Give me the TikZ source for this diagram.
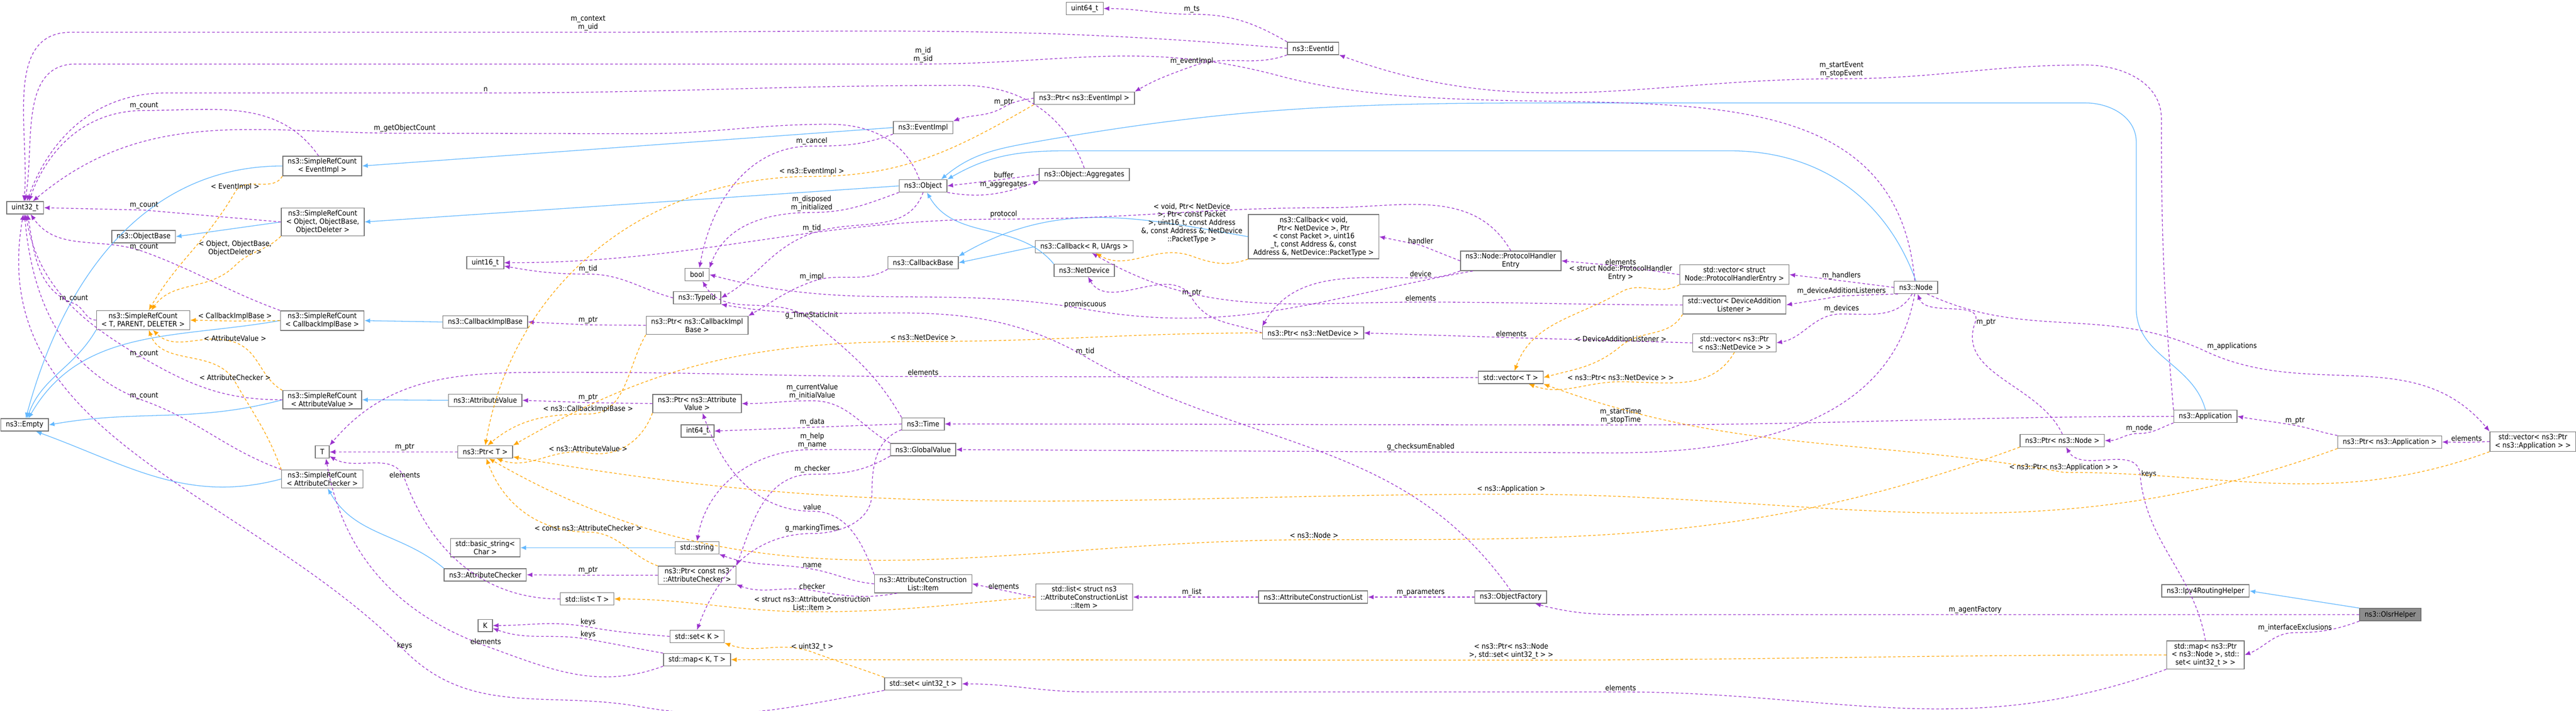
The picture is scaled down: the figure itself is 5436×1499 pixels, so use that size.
\documentclass[tikz,border=0pt]{standalone}
\usepackage{fontspec}
\setmainfont{DejaVu Sans Condensed}
\usepackage{tikz}
\usetikzlibrary{positioning,arrows.meta}

\definecolor{usecol}{HTML}{9A32CD}
\definecolor{tplcol}{HTML}{FFA500}
\definecolor{inhcol}{HTML}{63B8FF}

\begin{document}
\begin{tikzpicture}[x=0.01cm,y=0.01cm,
every node/.style = {font=\fontsize{4.4}{4.9}\selectfont},
cls/.style = {shape=rectangle, draw=black!55, line width=0.45pt, fill=white,
	align=center, inner xsep=3pt, inner ysep=1.3pt, minimum height=0.26cm},
lbl/.style = {align=center, inner sep=0.6pt},
use/.style = {draw=usecol, line width=0.4pt, dash pattern=on 1.6pt off 1.3pt,
	-{Latex[length=3.4pt,width=2.8pt]}},
tpl/.style = {use, draw=tplcol},
inh/.style = {draw=inhcol, line width=0.4pt, -{Latex[length=3.4pt,width=2.8pt]}}
]
\useasboundingbox (0,0) rectangle (5436,-1499);
% classes, left column
\node[cls] (u32) at (53,-438) {uint32\_t};
\node[cls] (srcEv) at (680,-350) {ns3::SimpleRefCount\\< EventImpl >};
\node[cls] (srcObj) at (681,-468) {ns3::SimpleRefCount\\< Object, ObjectBase,\\ObjectDeleter >};
\node[cls] (objBase) at (303,-499) {ns3::ObjectBase};
\node[cls] (u16) at (1024,-554) {uint16\_t};
\node[cls] (srcT) at (302,-675) {ns3::SimpleRefCount\\< T, PARENT, DELETER >};
\node[cls] (srcCb) at (680,-676) {ns3::SimpleRefCount\\< CallbackImplBase >};
\node[cls] (cbImpl) at (1024,-679) {ns3::CallbackImplBase};
\node[cls] (srcAv) at (680,-843) {ns3::SimpleRefCount\\< AttributeValue >};
\node[cls] (empty) at (52,-896) {ns3::Empty};
\node[cls] (attrVal) at (1024,-844) {ns3::AttributeValue};
\node[cls] (tT) at (680,-953) {T};
\node[cls] (ptrT) at (1024,-953) {ns3::Ptr< T >};
\node[cls] (srcAc) at (680,-1010) {ns3::SimpleRefCount\\< AttributeChecker >};
\node[cls] (basicStr) at (1024,-1155) {std::basic\_string<\\Char >};
\node[cls] (attrChk) at (1024,-1212) {ns3::AttributeChecker};
\node[cls] (listT) at (1239,-1263) {std::list< T >};
\node[cls] (kK) at (1024,-1319) {K};
% middle columns
\node[cls] (u64) at (2289,-18) {uint64\_t};
\node[cls] (eventId) at (2771,-102) {ns3::EventId};
\node[cls] (ptrEv) at (2288,-207) {ns3::Ptr< ns3::EventImpl >};
\node[cls] (eventImpl) at (1948,-269) {ns3::EventImpl};
\node[cls] (object) at (1948,-392) {ns3::Object};
\node[cls] (aggr) at (2288,-368) {ns3::Object::Aggregates};
\node[cls] (cbVoid) at (2772,-499) {ns3::Callback< void,\\Ptr< NetDevice >, Ptr\\< const Packet >, uint16\\\_t, const Address \&, const\\Address \&, NetDevice::PacketType >};
\node[cls] (cbRU) at (2288,-520) {ns3::Callback< R, UArgs >};
\node[cls] (cbBase) at (1948,-554) {ns3::CallbackBase};
\node[cls] (netDev) at (2288,-570) {ns3::NetDevice};
\node[cls] (boolT) at (1471,-579) {bool};
\node[cls] (typeId) at (1471,-628) {ns3::TypeId};
\node[cls] (ptrCb) at (1471,-686) {ns3::Ptr< ns3::CallbackImpl\\Base >};
\node[cls] (ptrNd) at (2771,-702) {ns3::Ptr< ns3::NetDevice >};
\node[cls] (ptrAv) at (1471,-851) {ns3::Ptr< ns3::Attribute\\Value >};
\node[cls] (i64) at (1472,-909) {int64\_t};
\node[cls] (time) at (1948,-894) {ns3::Time};
\node[cls] (globVal) at (1948,-948) {ns3::GlobalValue};
\node[cls] (str) at (1471,-1155) {std::string};
\node[cls] (ptrAc) at (1471,-1213) {ns3::Ptr< const ns3\\::AttributeChecker >};
\node[cls] (acItem) at (1948,-1231) {ns3::AttributeConstruction\\List::Item};
\node[cls] (listItem) at (2288,-1259) {std::list< struct ns3\\::AttributeConstructionList\\::Item >};
\node[cls] (acList) at (2771,-1259) {ns3::AttributeConstructionList};
\node[cls] (setK) at (1471,-1342) {std::set< K >};
\node[cls] (mapKT) at (1471,-1391) {std::map< K, T >};
\node[cls] (setU32) at (1948,-1442) {std::set< uint32\_t >};
% right columns
\node[cls] (phe) at (3188,-550) {ns3::Node::ProtocolHandler\\Entry};
\node[cls] (vecPhe) at (3660,-579) {std::vector< struct\\Node::ProtocolHandlerEntry >};
\node[cls] (vecDal) at (3660,-643) {std::vector< DeviceAddition\\Listener >};
\node[cls] (node) at (4043,-606) {ns3::Node};
\node[cls] (vecNd) at (3660,-723) {std::vector< ns3::Ptr\\< ns3::NetDevice > >};
\node[cls] (vecT) at (3188,-796) {std::vector< T >};
\node[cls] (objFac) at (3188,-1259) {ns3::ObjectFactory};
\node[cls] (app) at (4654,-878) {ns3::Application};
\node[cls] (ptrNode) at (4352,-929) {ns3::Ptr< ns3::Node >};
\node[cls] (ptrApp) at (5043,-932) {ns3::Ptr< ns3::Application >};
\node[cls] (vecApp) at (5345,-931) {std::vector< ns3::Ptr\\< ns3::Application > >};
\node[cls] (ipv4) at (4654,-1246) {ns3::Ipv4RoutingHelper};
\node[cls, fill=black!45] (olsr) at (5044,-1296) {ns3::OlsrHelper};
\node[cls] (mapNode) at (4654,-1381) {std::map< ns3::Ptr\\< ns3::Node >, std::\\set< uint32\_t > >};

% inheritance
\draw[inh] (srcEv.west) to[out=180,in=75] (empty.80);
\draw[inh] (eventImpl.west) -- (srcEv.east);
\draw[inh] (srcObj.west) -- (objBase.east);
\draw[inh] (object.west) -- (srcObj.east);
\draw[inh] (srcCb.west) to[out=190,in=60] (empty.60);
\draw[inh] (cbImpl.west) -- (srcCb.east);
\draw[inh] (srcAv.west) to[out=195,in=10] (empty.east);
\draw[inh] (attrVal.west) -- (srcAv.east);
\draw[inh] (srcAc.west) to[out=195,in=-20] (empty.-30);
\draw[inh] (attrChk.north west) to[out=140,in=-60] (srcAc.-60);
\draw[inh] (srcT.south west) to[out=240,in=70] (empty.70);
\draw[inh] (str.west) -- (basicStr.east);
\draw[inh] (cbRU.west) -- (cbBase.east);
\draw[inh] (cbVoid.west) to[out=170,in=30] (cbBase.north east);
\draw[inh] (netDev.north west) to[out=130,in=-60] (object.-60);
\draw[inh] (node.north) to[out=110,in=0] (3650,-318) -- (2250,-318) to[out=180,in=30] (object.north east);
\draw[inh] (app.north) to[out=105,in=-90] (4508,-650) -- (4508,-300)
	to[out=90,in=0] (4400,-217) -- (3300,-217) to[out=180,in=10] (2180,-300) to[out=190,in=40] (object.20);
\draw[inh] (olsr.north west) -- (ipv4.east);

% members
\draw[use] (eventId.west) to[out=175,in=0] (1241,-68) node[lbl,above]{m\_context\\m\_uid}
	-- (150,-68) to[out=180,in=85] (u32.100);
\draw[use] (node.100) to[out=95,in=-15] (2700,-160) to[out=165,in=0] (1948,-135) node[lbl,above]{m\_id\\m\_sid}
	-- (160,-135) to[out=180,in=80] (u32.92);
\draw[use] (aggr.north) to[out=110,in=0] (2030,-180) to[out=180,in=0] (1025,-196) node[lbl,above]{n}
	-- (350,-196) to[out=180,in=70] (u32.75);
\draw[use] (srcEv.110) to[out=125,in=0] (304,-233) node[lbl,above]{m\_count} to[out=180,in=70] (u32.60);
\draw[use] (object.120) to[out=110,in=0] (1750,-262) to[out=180,in=0] (1350,-282)
	-- (854,-281) node[lbl,above]{m\_getObjectCount} to[out=180,in=40] (u32.40);
\draw[use] (srcObj.west) -- (304,-443) node[lbl,above]{m\_count} -- (u32.east);
\draw[use] (srcCb.north west) to[out=160,in=-20] (304,-531) node[lbl,above]{m\_count} to[out=160,in=-55] (u32.-50);
\draw[use] (srcT.west) to[out=180,in=-20] (156,-640) node[lbl,above]{m\_count} to[out=160,in=-80] (u32.-70);
\draw[use] (srcAv.west) to[out=180,in=-30] (304,-756) node[lbl,above]{m\_count} to[out=150,in=-80] (u32.-85);
\draw[use] (srcAc.north west) to[out=160,in=-20] (304,-845) node[lbl,above]{m\_count} to[out=160,in=-85] (u32.-95);
\draw[use] (setU32.south west) to[out=190,in=-10] (1350,-1490) to[out=170,in=-45] (854,-1372) node[lbl,above]{keys}
	to[out=135,in=-100] (u32.-105);
\draw[use] (ptrEv.west) to[out=190,in=30] (2118,-226) node[lbl,above]{m\_ptr} to[out=210,in=20] (eventImpl.north east);
\draw[use] (eventId.south west) to[out=200,in=20] (2515,-140) node[lbl,above]{m\_eventImpl} to[out=200,in=30] (ptrEv.north east);
\draw[use] (eventId.north west) to[out=150,in=0] (2515,-30) node[lbl,above]{m\_ts} to[out=180,in=0] (u64.east);
\draw[use] (eventImpl.south west) to[out=200,in=0] (1713,-308) node[lbl,above]{m\_cancel} to[out=180,in=80] (boolT.70);
\draw[use] (object.south east) to[out=-10,in=200] (aggr.south west);
\node[lbl] (aggLbl) at (2118,-389) {m\_aggregates};
\draw[use] (aggr.west) -- (2118,-378) node[lbl,above]{buffer} -- (object.east);
\draw[use] (object.south west) to[out=200,in=0] (1713,-448) node[lbl,above]{m\_disposed\\m\_initialized} to[out=180,in=70] (boolT.north east);
\draw[use] (object.south) to[out=-110,in=20] (1713,-492) node[lbl,above]{m\_tid} to[out=200,in=30] (typeId.east);
\draw[use] (typeId.west) to[out=165,in=0] (1241,-578) node[lbl,above]{m\_tid} to[out=180,in=-10] (u16.-10);
\draw[use] (phe.north) to[out=120,in=0] (2800,-438) to[out=180,in=0] (2118,-462) node[lbl,above]{protocol}
	to[out=180,in=0] (u16.east);
\draw[use] (phe.west) -- (2998,-517) node[lbl,above]{handler} -- (cbVoid.east);
\draw[use] (phe.south west) to[out=200,in=0] (2998,-586) node[lbl,above]{device} to[out=180,in=60] (ptrNd.north west);
\draw[use] (ptrNd.west) to[out=160,in=-60] (2515,-628) node[lbl,above]{m\_ptr} to[out=120,in=-60] (netDev.-60);
\draw[use] (phe.195) to[out=190,in=-10] (2290,-652) node[lbl,above]{promiscuous} to[out=170,in=-15] (boolT.east);
\draw[use] (cbBase.south west) to[out=210,in=20] (1713,-594) node[lbl,above]{m\_impl} to[out=200,in=30] (ptrCb.north east);
\draw[use] (ptrCb.west) -- (1241,-685) node[lbl,above]{m\_ptr} -- (cbImpl.east);
\draw[use] (time.north west) to[out=120,in=-40] (1713,-676) node[lbl,above]{g\_TimeStaticInit} to[out=140,in=-60] (boolT.-50);
\draw[use] (objFac.north) to[out=125,in=-30] (2290,-752) node[lbl,above]{m\_tid} to[out=150,in=-10] (typeId.south east);
\draw[use] (time.west) -- (1714,-901) node[lbl,above]{m\_data} -- (i64.east);
\draw[use] (globVal.north west) to[out=150,in=0] (1714,-845) node[lbl,above]{m\_currentValue\\m\_initialValue} to[out=180,in=0] (ptrAv.east);
\draw[use] (globVal.west) to[out=180,in=0] (1714,-948) node[lbl,above]{m\_help\\m\_name} to[out=180,in=80] (str.north);
\draw[use] (globVal.south west) to[out=210,in=0] (1714,-1000) node[lbl,above]{m\_checker} to[out=180,in=70] (ptrAc.north east);
\draw[use] (time.195) to[out=200,in=90] (1840,-1040) to[out=-90,in=0] (1714,-1125) node[lbl,above]{g\_markingTimes}
	to[out=180,in=70] (setK.north);
\draw[use] (acItem.north west) to[out=110,in=0] (1714,-1078) node[lbl,above]{value} to[out=180,in=-70] (ptrAv.-60);
\draw[use] (acItem.west) to[out=175,in=-10] (1714,-1200) node[lbl,above]{name} to[out=170,in=-20] (str.south east);
\draw[use] (acItem.200) to[out=190,in=-10] (1714,-1245) node[lbl,above]{checker} to[out=170,in=-20] (ptrAc.south east);
\draw[use] (listItem.west) -- (2118,-1245) node[lbl,above]{elements} -- (acItem.east);
\draw[use] (acList.west) -- (2515,-1259) node[lbl,above]{m\_list} -- (listItem.east);
\draw[use] (objFac.west) -- (2998,-1259) node[lbl,above]{m\_parameters} -- (acList.east);
\draw[use] (ptrAv.west) -- (1241,-849) node[lbl,above]{m\_ptr} -- (attrVal.east);
\draw[use] (ptrAc.west) -- (1241,-1213) node[lbl,above]{m\_ptr} -- (attrChk.east);
\draw[use] (ptrT.west) -- (854,-953) node[lbl,above]{m\_ptr} -- (tT.east);
\draw[use] (listT.west) to[out=180,in=-70] (854,-1010) node[lbl,above]{elements} to[out=110,in=-30] (tT.-30);
\draw[use] (vecT.west) to[out=180,in=0] (1948,-794) node[lbl,above]{elements} to[out=180,in=0] (1200,-785)
	to[out=180,in=50] (tT.north east);
\draw[use] (mapKT.south west) to[out=200,in=-20] (1025,-1362) node[lbl,above]{elements} to[out=160,in=-80] (tT.-60);
\draw[use] (setK.west) to[out=175,in=-10] (1241,-1322) node[lbl,above]{keys} to[out=170,in=0] (kK.east);
\draw[use] (mapKT.north west) to[out=170,in=-10] (1241,-1348) node[lbl,above]{keys} to[out=170,in=-20] (kK.-20);
\draw[use] (app.west) to[out=180,in=0] (3420,-896) node[lbl,above]{m\_startTime\\m\_stopTime} to[out=180,in=0] (time.east);
\draw[use] (node.-100) to[out=-100,in=0] (3400,-955) -- (2998,-953) node[lbl,above]{g\_checksumEnabled} -- (globVal.east);
\draw[use] (node.west) -- (3886,-592) node[lbl,above]{m\_handlers} -- (vecPhe.east);
\draw[use] (node.200) -- (3886,-624) node[lbl,above]{m\_deviceAdditionListeners} -- (vecDal.east);
\draw[use] (node.-120) to[out=-120,in=0] (3886,-662) node[lbl,above]{m\_devices} to[out=180,in=10] (vecNd.east);
\draw[use] (vecPhe.west) -- (3420,-561) node[lbl,above]{elements} -- (phe.east);
\draw[use] (vecDal.west) to[out=180,in=0] (2998,-637) node[lbl,above]{elements} to[out=180,in=-30] (cbRU.-40);
\draw[use] (vecNd.west) -- (3189,-712) node[lbl,above]{elements} -- (ptrNd.east);
\draw[use] (node.-30) to[out=-25,in=155] (4655,-741) node[lbl,above right]{m\_applications} to[out=-25,in=130] (vecApp.north west);
\draw[use] (app.north west) to[out=95,in=-90] (4561,-250) to[out=90,in=0] (4400,-137) to[out=180,in=0] (3886,-166)
	node[lbl,above]{m\_startEvent\\m\_stopEvent} to[out=180,in=-20] (eventId.south east);
\draw[use] (app.south west) to[out=200,in=0] (4514,-914) node[lbl,above]{m\_node} to[out=180,in=0] (ptrNode.east);
\draw[use] (ptrNode.north) to[out=115,in=-110] (4168,-680) node[lbl,right]{m\_ptr} to[out=70,in=-70] (node.-75);
\draw[use] (ptrApp.north west) to[out=170,in=-10] (4843,-897) node[lbl,above]{m\_ptr} to[out=170,in=-10] (app.east);
\draw[use] (vecApp.west) -- (5205,-933) node[lbl,above]{elements} -- (ptrApp.east);
\draw[use] (olsr.west) -- (4168,-1296) node[lbl,above]{m\_agentFactory} -- (3500,-1296) to[out=180,in=-15] (objFac.-15);
\draw[use] (olsr.south west) to[out=200,in=0] (4843,-1334) node[lbl,above]{m\_interfaceExclusions} to[out=180,in=20] (mapNode.east);
\draw[use] (mapNode.north) to[out=100,in=-85] (4516,-1000) node[lbl,right]{keys} to[out=95,in=-60] (ptrNode.-60);
\draw[use] (mapNode.south west) to[out=200,in=0] (3420,-1459) node[lbl,above]{elements} -- (2300,-1459) to[out=180,in=0] (setU32.east);

% template instances
\draw[tpl] (srcEv.south west) to[out=240,in=60] (496,-405) node[lbl,above]{< EventImpl >} to[out=240,in=60] (srcT.60);
\draw[tpl] (srcObj.south west) to[out=225,in=45] (496,-560) node[lbl,above=5pt]{< Object, ObjectBase,\\ObjectDeleter >} to[out=225,in=55] (srcT.50);
\draw[tpl] (srcCb.west) -- (496,-677) node[lbl,above]{< CallbackImplBase >} -- (srcT.east);
\draw[tpl] (srcAv.north west) to[out=150,in=-20] (496,-722) node[lbl,above]{< AttributeValue >} to[out=160,in=-45] (srcT.-45);
\draw[tpl] (srcAc.north west) to[out=110,in=-60] (496,-805) node[lbl,above]{< AttributeChecker >} to[out=120,in=-70] (srcT.-60);
\draw[tpl] (ptrEv.south west) to[out=210,in=0] (1713,-372) node[lbl,above]{< ns3::EventImpl >} to[out=180,in=80] (ptrT.north);
\draw[tpl] (ptrCb.south west) to[out=240,in=0] (1241,-873) node[lbl,above]{< ns3::CallbackImplBase >} to[out=180,in=40] (ptrT.70);
\draw[tpl] (ptrAv.south west) to[out=250,in=-10] (1241,-955) node[lbl,above]{< ns3::AttributeValue >} to[out=170,in=-20] (ptrT.-30);
\draw[tpl] (ptrAc.north west) to[out=160,in=0] (1241,-1122) node[lbl,above]{< const ns3::AttributeChecker >} to[out=180,in=-70] (ptrT.-80);
\draw[tpl] (ptrNd.west) to[out=180,in=0] (1948,-720) node[lbl,above]{< ns3::NetDevice >} to[out=180,in=30] (ptrT.north east);
\draw[tpl] (ptrNode.south west) to[out=200,in=0] (2773,-1138) node[lbl,above]{< ns3::Node >} to[out=180,in=-30] (ptrT.-60);
\draw[tpl] (ptrApp.south west) to[out=200,in=0] (3189,-1042) node[lbl,above]{< ns3::Application >} to[out=180,in=-10] (ptrT.-10);
\draw[tpl] (listItem.west) to[out=185,in=0] (1714,-1290) node[lbl,above]{< struct ns3::AttributeConstruction\\List::Item >}
	to[out=180,in=0] (listT.east);
\draw[tpl] (setU32.north west) to[out=160,in=-20] (1714,-1375) node[lbl,above]{< uint32\_t >} to[out=160,in=-20] (setK.south east);
\draw[tpl] (mapNode.west) to[out=180,in=0] (3189,-1392) node[lbl,above]{< ns3::Ptr< ns3::Node\\>, std::set< uint32\_t > >} -- (mapKT.east);
\draw[tpl] (cbVoid.south west) to[out=200,in=-20] (2515,-540) node[lbl,above=7pt]{< void, Ptr< NetDevice\\>, Ptr< const Packet\\>, uint16\_t, const Address\\\&, const Address \&, NetDevice\\::PacketType >}
	to[out=160,in=-30] (cbRU.-30);
\draw[tpl] (vecPhe.south west) to[out=210,in=30] (3420,-616) node[lbl,above=6pt]{< struct Node::ProtocolHandler\\Entry >} to[out=210,in=70] (vecT.60);
\draw[tpl] (vecDal.south west) to[out=240,in=40] (3420,-730) to[out=220,in=15] (vecT.east);
\node[lbl] (dalLbl) at (3420,-714) {< DeviceAdditionListener >};
\draw[tpl] (vecNd.south) to[out=240,in=0] (3420,-805) node[lbl,above]{< ns3::Ptr< ns3::NetDevice > >} to[out=180,in=-20] (vecT.-20);
\draw[tpl] (vecApp.south west) to[out=200,in=0] (4355,-996) node[lbl,above]{< ns3::Ptr< ns3::Application > >}
	to[out=170,in=-20] (vecT.south east);
\end{tikzpicture}
\end{document}
